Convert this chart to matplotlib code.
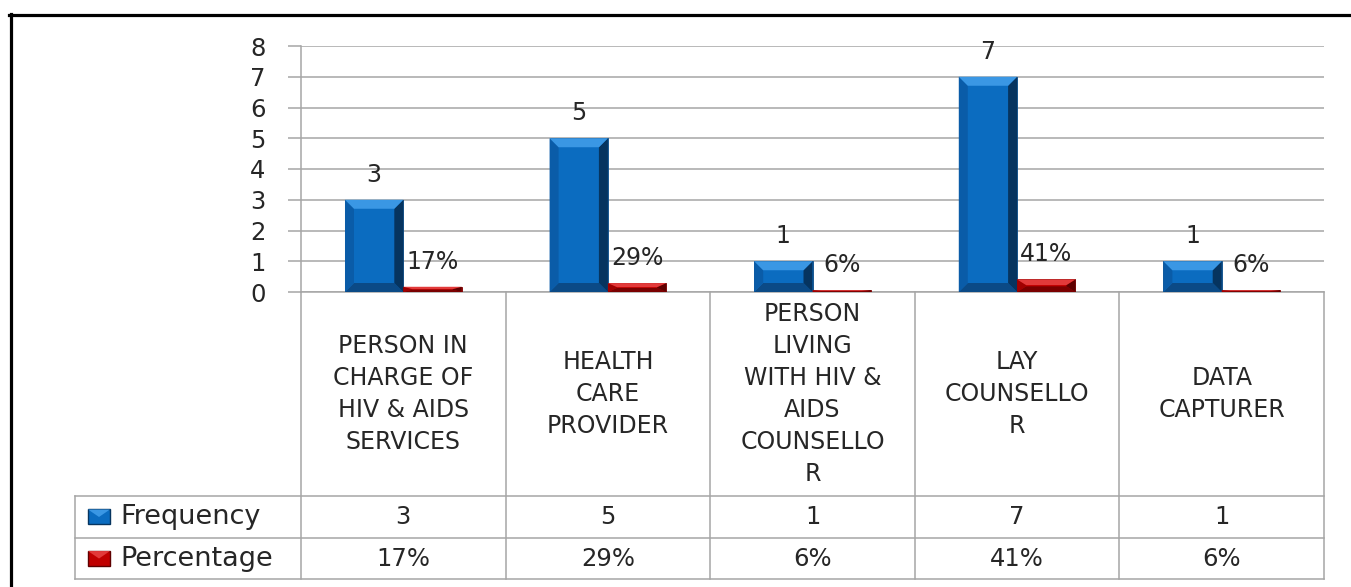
import matplotlib
matplotlib.use("Agg")
import matplotlib.pyplot as plt
from matplotlib.patches import Polygon, Rectangle
from matplotlib.lines import Line2D

# data
categories = [
    "PERSON IN\nCHARGE OF\nHIV & AIDS\nSERVICES",
    "HEALTH\nCARE\nPROVIDER",
    "PERSON\nLIVING\nWITH HIV &\nAIDS\nCOUNSELLO\nR",
    "LAY\nCOUNSELLO\nR",
    "DATA\nCAPTURER",
]
frequency = [3, 5, 1, 7, 1]
percentage = [17, 29, 6, 41, 6]
series_names = ["Frequency", "Percentage"]

BLUE = dict(face="#0B6CC0", top="#3A97E4", left="#0A5CA8", right="#06345F", bottom="#0B4A86", edge="#0A4A85")
RED = dict(face="#C00000", top="#E23A3A", left="#A00000", right="#5E0000", bottom="#7A0000", edge="#7A0000")
GRID = "#A6A6A6"
TEXT = "#262626"
FONT = "DejaVu Sans"

plt.rcParams["font.family"] = FONT

fig = plt.figure(figsize=(13.51, 5.87), dpi=100)
ax = fig.add_axes([301 / 1351, 295 / 587, 1023 / 1351, 246 / 587])

n = len(categories)
xs = list(range(n))
w = 0.285
ylim = (0, 8)

bars_f = ax.bar([x - w for x in xs], frequency, width=w, align="edge",
                color=BLUE["face"], edgecolor=BLUE["edge"], linewidth=0.6, zorder=3)
bars_p = ax.bar(xs, [p / 100 for p in percentage], width=w, align="edge",
                color=RED["face"], edgecolor=RED["edge"], linewidth=0.6, zorder=3)

# bevel: about 9 px on each side, converted to data units
px_x = 9 / (1023 / n)
px_y = 9 / (246 / (ylim[1] - ylim[0]))


def bevel(rect, pal):
    x0, y0 = rect.get_x(), rect.get_y()
    x1, y1 = x0 + rect.get_width(), y0 + rect.get_height()
    bx = min(px_x, rect.get_width() * 0.45)
    by = min(px_y, rect.get_height() * 0.45)
    pieces = [
        ([(x0, y0), (x1, y0), (x1 - bx, y0 + by), (x0 + bx, y0 + by)], pal["bottom"]),
        ([(x0, y0), (x0, y1), (x0 + bx, y1 - by), (x0 + bx, y0 + by)], pal["left"]),
        ([(x1, y0), (x1, y1), (x1 - bx, y1 - by), (x1 - bx, y0 + by)], pal["right"]),
        ([(x0, y1), (x1, y1), (x1 - bx, y1 - by), (x0 + bx, y1 - by)], pal["top"]),
    ]
    for pts, c in pieces:
        ax.add_patch(Polygon(pts, closed=True, facecolor=c, edgecolor="none", zorder=4))


for r in bars_f:
    bevel(r, BLUE)
for r in bars_p:
    bevel(r, RED)

# data labels
for r, v in zip(bars_f, frequency):
    ax.annotate(str(v), (r.get_x() + r.get_width() / 2, r.get_height()),
                xytext=(0, 18), textcoords="offset points", ha="center", va="center",
                fontsize=17, color=TEXT, zorder=5)
for r, v in zip(bars_p, percentage):
    ax.annotate(f"{v}%", (r.get_x() + r.get_width() / 2, r.get_height()),
                xytext=(0, 18), textcoords="offset points", ha="center", va="center",
                fontsize=17, color=TEXT, zorder=5)

ax.set_xlim(-0.5, n - 0.5)
ax.set_ylim(*ylim)
ax.set_yticks(range(0, 9))
ax.yaxis.grid(True, color=GRID, linewidth=1.1, zorder=0)
ax.set_axisbelow(True)
ax.set_xticks([])
for side in ("top", "right", "bottom"):
    ax.spines[side].set_visible(False)
ax.spines["left"].set_color(GRID)
ax.spines["left"].set_linewidth(1.1)
ax.tick_params(axis="y", length=9.4, width=1.1, color=GRID, pad=16,
               labelsize=17.5, labelcolor=TEXT)

# data table under the plot (x in data units, y in axes fraction)
tr = ax.get_xaxis_transform()
y_top, y_freq, y_pct, y_bot = 0.0, -0.829, -1.0, -1.167
x_left = -0.5 - 226 / (1023 / n)


def hline(x0, x1, y):
    ax.add_line(Line2D([x0, x1], [y, y], transform=tr, color=GRID, lw=1.1, clip_on=False))


def vline(x, y0, y1):
    ax.add_line(Line2D([x, x], [y0, y1], transform=tr, color=GRID, lw=1.1, clip_on=False))


x_right = n - 0.5
hline(-0.5, x_right, y_top)
hline(x_left, x_right, y_freq)
hline(x_left, x_right, y_pct)
hline(x_left, x_right, y_bot)
for i in range(n + 1):
    vline(i - 0.5, y_top, y_bot)
vline(x_left, y_freq, y_bot)

for x, lab in zip(xs, categories):
    ax.text(x, (y_top + y_freq) / 2, lab, transform=tr, ha="center", va="center",
            fontsize=17, color=TEXT, linespacing=1.42, clip_on=False)
for x, f, p in zip(xs, frequency, percentage):
    ax.text(x, (y_freq + y_pct) / 2, str(f), transform=tr, ha="center", va="center",
            fontsize=17.5, color=TEXT, clip_on=False)
    ax.text(x, (y_pct + y_bot) / 2, f"{p}%", transform=tr, ha="center", va="center",
            fontsize=17.5, color=TEXT, clip_on=False)

# legend keys inside the table
key_x0 = -0.5 - 213 / (1023 / n)
key_w = 22 / (1023 / n)
txt_x = -0.5 - 181 / (1023 / n)
key_h = 15 / 246
for name, pal, (ya, yb) in zip(series_names, [BLUE, RED], [(y_freq, y_pct), (y_pct, y_bot)]):
    yc = (ya + yb) / 2
    ax.add_patch(Rectangle((key_x0, yc - key_h / 2), key_w, key_h, transform=tr,
                           facecolor=pal["face"], edgecolor=pal["right"], lw=1.0,
                           clip_on=False, zorder=4))
    ax.add_patch(Polygon([(key_x0, yc + key_h / 2), (key_x0 + key_w, yc + key_h / 2),
                          (key_x0 + key_w / 2, yc)], closed=True, transform=tr,
                         facecolor=pal["top"], edgecolor="none", clip_on=False, zorder=5))
    ax.text(txt_x, yc, name, transform=tr, ha="left", va="center",
            fontsize=19.5, color=TEXT, clip_on=False)

# black frame (top and left edges of the cropped figure)
fig.add_artist(Line2D([9 / 1351, 1.0], [572.5 / 587, 572.5 / 587], color="black", lw=2.3))
fig.add_artist(Line2D([10.5 / 1351, 10.5 / 1351], [0.0, 573.5 / 587], color="black", lw=2.3))

fig.savefig("out.png", dpi=100, facecolor="white")
